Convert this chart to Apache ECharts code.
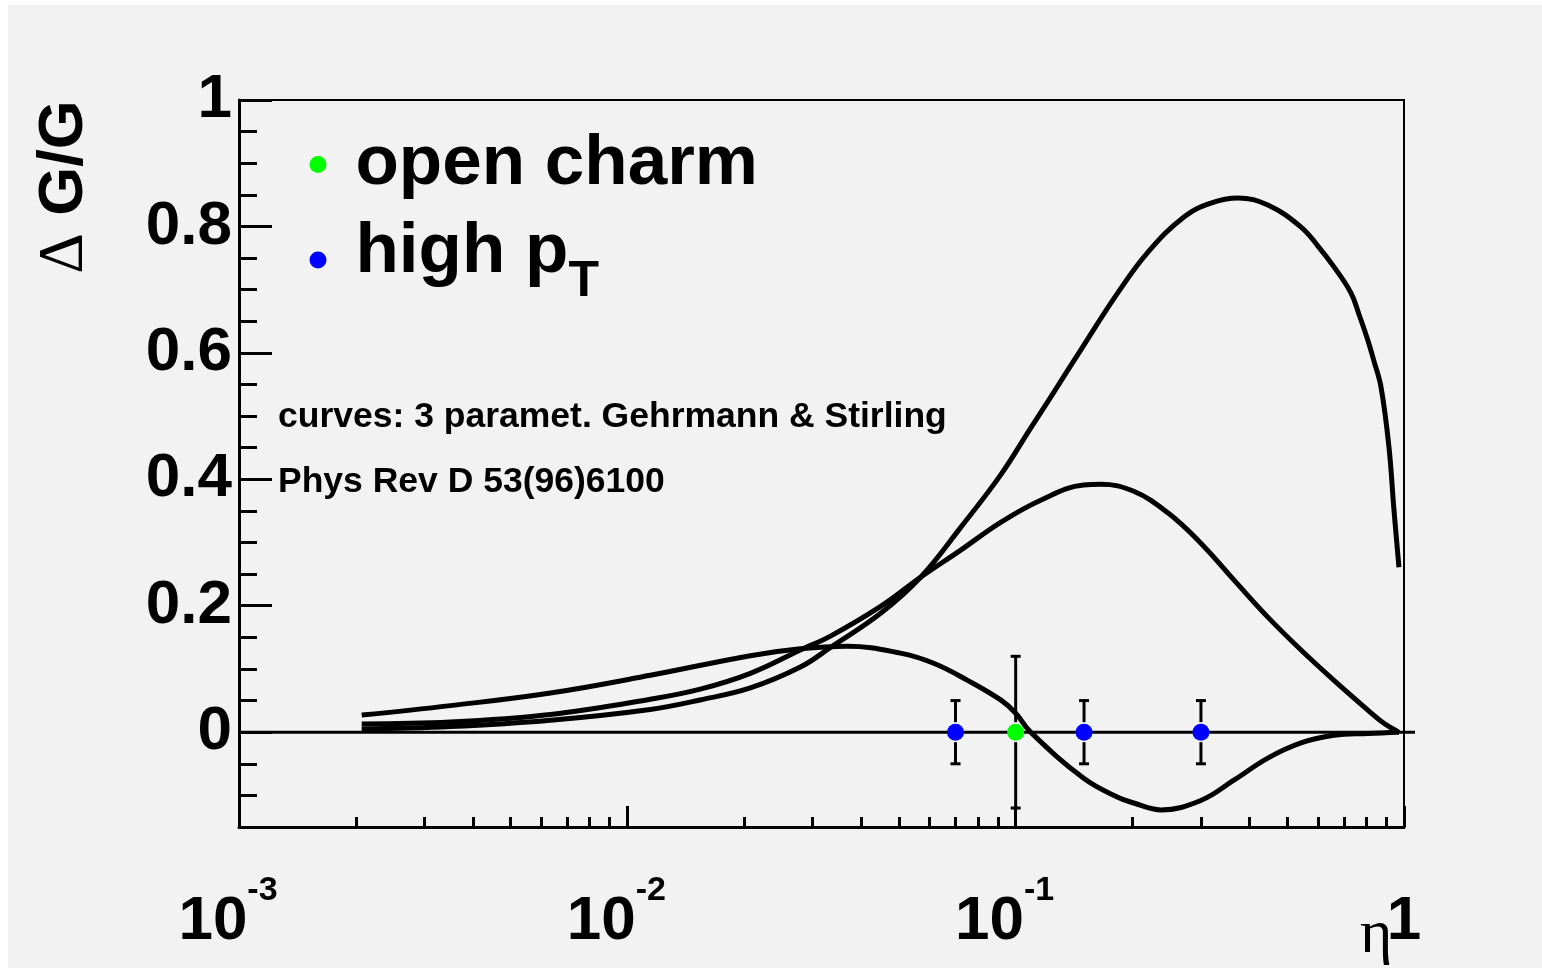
<!DOCTYPE html>
<html>
<head>
<meta charset="utf-8">
<script src="https://cdn.jsdelivr.net/npm/echarts@6/dist/echarts.min.js"></script>
<style>
  html, body { margin: 0; padding: 0; background: #ffffff; }
  #chart { width: 1542px; height: 968px; }
</style>
</head>
<body>
<div id="chart"></div>
<script>
// ---- axis ticks ----
const xMajorTicks = [0.001, 0.01, 0.1, 1];
const xMinorTicks = [0.002, 0.003, 0.004, 0.005, 0.006, 0.007, 0.008, 0.009,
                     0.02, 0.03, 0.04, 0.05, 0.06, 0.07, 0.08, 0.09,
                     0.2, 0.3, 0.4, 0.5, 0.6, 0.7, 0.8, 0.9];
const yMajorTicks = [0, 0.2, 0.4, 0.6, 0.8, 1];
const yMinorTicks = [-0.1, -0.05, 0.05, 0.1, 0.15, 0.25, 0.3, 0.35, 0.45, 0.5, 0.55,
                     0.65, 0.7, 0.75, 0.85, 0.9, 0.95];

// ---- Gehrmann & Stirling parametrisations of Delta G / G ----
// set A: large positive polarisation at high x
const gsAX = [0.00207, 0.0035, 0.00634, 0.01146, 0.01541, 0.02074, 0.0279, 0.03335, 0.0449,
              0.0569, 0.0722, 0.0915, 0.1093, 0.1231, 0.1497, 0.1832, 0.2189, 0.2712, 0.3182,
              0.3737, 0.446, 0.543, 0.6004, 0.6602, 0.73, 0.7656, 0.807, 0.8369, 0.8725,
              0.9147, 0.9424, 0.9705];
const gsAY = [0.005, 0.009, 0.019, 0.036, 0.051, 0.070, 0.103, 0.134, 0.188,
              0.245, 0.324, 0.407, 0.481, 0.530, 0.612, 0.695, 0.759, 0.815, 0.837,
              0.845, 0.834, 0.799, 0.769, 0.736, 0.695, 0.661, 0.620, 0.587, 0.546,
              0.451, 0.351, 0.261];
// set B: moderate polarisation
const gsBX = [0.00207, 0.0035, 0.00634, 0.01146, 0.01541, 0.02074, 0.0279, 0.03335, 0.0449,
              0.0569, 0.0722, 0.0915, 0.116, 0.1497, 0.1656, 0.2014, 0.2466, 0.2998, 0.3646,
              0.446, 0.543, 0.6602, 0.807, 0.8875, 0.9705];
const gsBY = [0.013, 0.016, 0.028, 0.052, 0.068, 0.093, 0.130, 0.152, 0.199,
              0.245, 0.288, 0.332, 0.367, 0.391, 0.392, 0.381, 0.347, 0.299, 0.241,
              0.182, 0.130, 0.082, 0.035, 0.014, 0.0];
// set C: sign-changing polarisation
const gsCX = [0.00207, 0.0035, 0.00634, 0.01146, 0.02074, 0.0279, 0.0369,
              0.0505, 0.0615, 0.0752, 0.0915, 0.1, 0.1093, 0.1497, 0.1832, 0.2014, 0.2365,
              0.2998, 0.3646, 0.446, 0.543, 0.6602, 0.807, 0.9705];
const gsCY = [0.027, 0.042, 0.062, 0.090, 0.121, 0.132, 0.136,
              0.125, 0.109, 0.082, 0.051, 0.030, 0.0, -0.073, -0.103, -0.112, -0.123,
              -0.108, -0.076, -0.041, -0.017, -0.005, -0.002, 0.0];

// ---- projected measurements ----
const openCharmX = [0.1];
const openCharmY = [0];
const openCharmErr = [0.12];
const highPtX = [0.07, 0.15, 0.3];
const highPtY = [0, 0, 0];
const highPtErr = [0.05, 0.05, 0.05];

const zip = (xs, ys) => xs.map((x, i) => [x, ys[i]]);
const zip3 = (xs, ys, es) => xs.map((x, i) => [x, ys[i], es[i]]);

const SANS = '"Liberation Sans", Arial, Helvetica, sans-serif';
const SERIF = '"Liberation Serif", "Times New Roman", serif';

function curveSeries(name, xs, ys) {
  return {
    name: name, type: 'line', data: zip(xs, ys), showSymbol: false, smooth: 0.4,
    lineStyle: { color: '#000', width: 5 }, z: 2, silent: true, legendHoverLink: false
  };
}

function renderErrorBar(params, api) {
  const x = api.value(0), y = api.value(1), e = api.value(2);
  const c = api.coord([x, y]);
  const t = api.coord([x, y + e]);
  const b = api.coord([x, y - e]);
  const gap = 10, cap = 5;
  const st = { stroke: '#000', lineWidth: 3 };
  return {
    type: 'group',
    children: [
      { type: 'line', shape: { x1: c[0], y1: t[1], x2: c[0], y2: c[1] - gap }, style: st },
      { type: 'line', shape: { x1: c[0], y1: c[1] + gap, x2: c[0], y2: b[1] }, style: st },
      { type: 'line', shape: { x1: c[0] - cap, y1: t[1], x2: c[0] + cap, y2: t[1] }, style: st },
      { type: 'line', shape: { x1: c[0] - cap, y1: b[1], x2: c[0] + cap, y2: b[1] }, style: st }
    ]
  };
}

function renderZeroLine(params, api) {
  const p0 = api.coord([api.value(0), api.value(2)]);
  const p1 = api.coord([api.value(1), api.value(2)]);
  return {
    type: 'line',
    shape: { x1: p0[0], y1: p0[1], x2: p1[0] + 11, y2: p1[1] },
    style: { stroke: '#000', lineWidth: 3 }
  };
}

const chart = echarts.init(document.getElementById('chart'), null, { renderer: 'canvas' });

chart.setOption({
  animation: false,
  backgroundColor: '#f2f2f2',
  textStyle: { fontFamily: SANS },
  grid: {
    left: 239, top: 100, width: 1165, height: 727,
    show: true, borderColor: '#000', borderWidth: 2, backgroundColor: 'transparent',
    containLabel: false, outerBoundsMode: 'none'
  },
  legend: {
    orient: 'vertical', left: 309.5, top: 129, padding: 0, itemGap: 12.5,
    itemWidth: 17, itemHeight: 17, icon: 'circle', selectedMode: false,
    data: ['open charm', 'high pT'],
    formatter: function (name) {
      return name === 'high pT' ? '{m|high p}{s|T}' : '{a|' + name + '}';
    },
    textStyle: {
      color: '#000', fontFamily: SANS, fontWeight: 'bold', fontSize: 71,
      padding: [0, 0, 0, 24],
      rich: {
        a: { fontFamily: SANS, fontWeight: 'bold', fontSize: 71, lineHeight: 80, color: '#000' },
        m: { fontFamily: SANS, fontWeight: 'bold', fontSize: 71, lineHeight: 80, padding: [0, 0, 15, 0], color: '#000' },
        s: { fontFamily: SANS, fontWeight: 'bold', fontSize: 50, lineHeight: 50, padding: [45, 0, 0, 0], color: '#000' }
      }
    }
  },
  xAxis: [
    {
      type: 'log', logBase: 10, min: 0.001, max: 1, position: 'bottom',
      axisLine: { onZero: false, lineStyle: { color: '#000', width: 3 } },
      axisTick: { inside: true, length: 21, customValues: xMajorTicks, lineStyle: { color: '#000', width: 3 } },
      axisLabel: {
        customValues: xMajorTicks, margin: 50, color: '#000',
        formatter: function (v) {
          if (v >= 0.999) return '{b|1}';
          return '{b|10}{s|' + Math.round(Math.log10(v)) + '}';
        },
        rich: {
          b: { fontFamily: SANS, fontWeight: 'bold', fontSize: 62, lineHeight: 90, color: '#000' },
          s: { fontFamily: SANS, fontWeight: 'bold', fontSize: 34, lineHeight: 28, padding: [0, 22, 62, 0], color: '#000' }
        }
      },
      splitLine: { show: false }, minorTick: { show: false }, minorSplitLine: { show: false }
    },
    {
      // minor decade ticks, drawn along the lower frame edge
      type: 'log', logBase: 10, min: 0.001, max: 1, position: 'top', offset: -727,
      axisLine: { show: false, onZero: false },
      axisTick: { inside: false, length: 10, customValues: xMinorTicks, lineStyle: { color: '#000', width: 3 } },
      axisLabel: { show: false }, splitLine: { show: false }
    }
  ],
  yAxis: [
    {
      type: 'value', min: -0.15, max: 1, position: 'left',
      axisLine: { onZero: false, lineStyle: { color: '#000', width: 3 } },
      axisTick: { inside: true, length: 33, customValues: yMajorTicks, lineStyle: { color: '#000', width: 3 } },
      axisLabel: {
        customValues: yMajorTicks, margin: 7, color: '#000',
        fontFamily: SANS, fontWeight: 'bold', fontSize: 62, padding: [12, 0, 0, 0],
        formatter: function (v) { return (v === 0 || v === 1) ? String(v) : v.toFixed(1); }
      },
      splitLine: { show: false }
    },
    {
      // minor ticks every 0.05 along the left frame edge
      type: 'value', min: -0.15, max: 1, position: 'right', offset: -1165,
      axisLine: { show: false, onZero: false },
      axisTick: { inside: false, length: 18, customValues: yMinorTicks, lineStyle: { color: '#000', width: 3 } },
      axisLabel: { show: false }, splitLine: { show: false }
    }
  ],
  series: [
    curveSeries('GS A', gsAX, gsAY),
    curveSeries('GS B', gsBX, gsBY),
    curveSeries('GS C', gsCX, gsCY),
    {
      name: 'zero', type: 'custom', renderItem: renderZeroLine, clip: false, silent: true,
      data: [[xMajorTicks[0], xMajorTicks[3], 0]], encode: { x: [0, 1], y: 2 }, z: 3
    },
    {
      name: 'open charm err', type: 'custom', renderItem: renderErrorBar, clip: false, silent: true,
      data: zip3(openCharmX, openCharmY, openCharmErr), encode: { x: 0, y: 1 }, z: 4
    },
    {
      name: 'high pT err', type: 'custom', renderItem: renderErrorBar, clip: false, silent: true,
      data: zip3(highPtX, highPtY, highPtErr), encode: { x: 0, y: 1 }, z: 4
    },
    {
      name: 'open charm', type: 'scatter', symbol: 'circle', symbolSize: 17,
      itemStyle: { color: '#00ff00', opacity: 1 }, data: zip(openCharmX, openCharmY), z: 5, silent: true
    },
    {
      name: 'high pT', type: 'scatter', symbol: 'circle', symbolSize: 17,
      itemStyle: { color: '#0000ff', opacity: 1 }, data: zip(highPtX, highPtY), z: 5, silent: true
    }
  ],
  graphic: [
    { type: 'rect', silent: true, z: 100, shape: { x: 0, y: 0, width: 1542, height: 5 }, style: { fill: '#ffffff' } },
    { type: 'rect', silent: true, z: 100, shape: { x: 0, y: 0, width: 8, height: 968 }, style: { fill: '#ffffff' } },
    {
      type: 'text', x: 65, y: 187, rotation: Math.PI / 2, silent: true,
      style: {
        text: '{d|Δ} {g|G/G}', align: 'center', verticalAlign: 'middle',
        fontFamily: SANS, fontWeight: 'bold', fontSize: 63, fill: '#000',
        rich: {
          d: { fontFamily: SERIF, fontSize: 63, fill: '#000' },
          g: { fontFamily: SANS, fontWeight: 'bold', fontSize: 63, fill: '#000' }
        }
      }
    },
    {
      type: 'text', x: 278, y: 417, silent: true,
      style: { text: 'curves: 3 paramet. Gehrmann & Stirling', fontFamily: SANS, fontWeight: 'bold',
               fontSize: 35.5, fill: '#000', align: 'left', verticalAlign: 'middle' }
    },
    {
      type: 'text', x: 278, y: 482, silent: true,
      style: { text: 'Phys Rev D 53(96)6100', fontFamily: SANS, fontWeight: 'bold',
               fontSize: 35.5, fill: '#000', align: 'left', verticalAlign: 'middle' }
    },
    {
      type: 'text', x: 1360, y: 936, silent: true,
      style: { text: 'η', fontFamily: SERIF, fontSize: 62, fill: '#000', align: 'left', verticalAlign: 'middle' }
    }
  ]
});
</script>
</body>
</html>
